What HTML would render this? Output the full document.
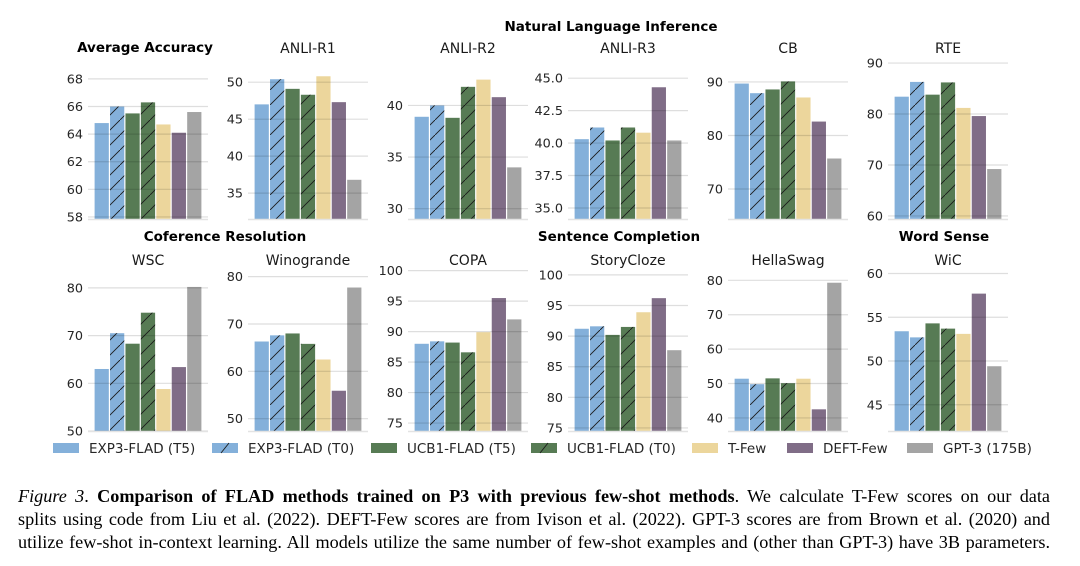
<!DOCTYPE html>
<html><head><meta charset="utf-8"><style>
html,body{margin:0;padding:0;background:#fff;}
body{position:relative;width:1080px;height:566px;overflow:hidden;}
svg{display:block;position:absolute;left:0;top:0;}
.tk{font-family:"DejaVu Sans","Liberation Sans",sans-serif;font-size:12.8px;fill:#262626;}
.st{font-family:"DejaVu Sans","Liberation Sans",sans-serif;font-size:14px;fill:#1a1a1a;}
.gt{font-family:"DejaVu Sans","Liberation Sans",sans-serif;font-size:13.5px;font-weight:bold;fill:#000;}
.lg{font-family:"DejaVu Sans","Liberation Sans",sans-serif;font-size:13.5px;fill:#262626;}
.cap{position:absolute;left:18px;width:1032px;font-family:"Liberation Serif","Times New Roman",serif;font-size:18.2px;line-height:23px;color:#000;text-align:justify;text-align-last:justify;white-space:nowrap;}
</style></head><body>
<svg id="fig" width="1080" height="566" viewBox="0 0 1080 566" xmlns="http://www.w3.org/2000/svg">
<defs>
<pattern id="hatch" patternUnits="userSpaceOnUse" width="15" height="15">
<line x1="0" y1="15" x2="15" y2="0" stroke="#1a1a1a" stroke-width="0.9"/>
</pattern>
</defs>
<g id="panels"></g>
<g id="legend"></g>
<text class="gt" x="611" y="31" text-anchor="middle">Natural Language Inference</text>
<text class="gt" x="145" y="52" text-anchor="middle">Average Accuracy</text>
<text class="gt" x="225" y="241" text-anchor="middle">Coference Resolution</text>
<text class="gt" x="619" y="241" text-anchor="middle">Sentence Completion</text>
<text class="gt" x="944" y="241" text-anchor="middle">Word Sense</text>
</svg>
<div>
<div class="cap" style="top:485px;"><i>Figure 3</i>. <b>Comparison of FLAD methods trained on P3 with previous few-shot methods</b>.  We calculate T-Few scores on our data</div>
<div class="cap" style="top:508px;">splits using code from Liu et al. (2022). DEFT-Few scores are from Ivison et al. (2022). GPT-3 scores are from Brown et al. (2020) and</div>
<div class="cap" style="top:531px;">utilize few-shot in-context learning. All models utilize the same number of few-shot examples and (other than GPT-3) have 3B parameters.</div>
</div>
<script>
const methods = ["EXP3-FLAD (T5)","EXP3-FLAD (T0)","UCB1-FLAD (T5)","UCB1-FLAD (T0)","T-Few","DEFT-Few","GPT-3 (175B)"];
const colors = ["#84b0da","#84b0da","#577b54","#577b54","#ecd69c","#806d87","#a4a4a4"];
const hatched = [false,true,false,true,false,false,false];
const tasks = ["","ANLI-R1","ANLI-R2","ANLI-R3","CB","RTE","WSC","Winogrande","COPA","StoryCloze","HellaSwag","WiC"];
const avgVals = [64.8,66.0,65.5,66.3,64.7,64.1,65.6];
const anliR1 = [47.0,50.4,49.1,48.3,50.8,47.3,36.8];
const anliR2 = [38.9,40.0,38.8,41.8,42.5,40.8,34.0];
const anliR3 = [40.3,41.2,40.2,41.2,40.8,44.3,40.2];
const cbVals = [89.7,87.9,88.6,90.1,87.1,82.6,75.7];
const rteVals = [83.4,86.3,83.8,86.2,81.2,79.6,69.2];
const wscVals = [63.0,70.5,68.3,74.8,58.8,63.4,80.2];
const winoVals = [66.3,67.6,68.0,65.8,62.5,55.9,77.7];
const copaVals = [88.0,88.4,88.2,86.6,89.9,95.5,92.0];
const storyVals = [91.2,91.6,90.2,91.5,93.9,96.2,87.7];
const hellaVals = [51.4,49.8,51.5,50.1,51.4,42.5,79.3];
const wicVals = [53.4,52.7,54.3,53.7,53.1,57.7,49.4];
const seriesList = [avgVals,anliR1,anliR2,anliR3,cbVals,rteVals,wscVals,winoVals,copaVals,storyVals,hellaVals,wicVals];
const yLo = [57.85,31.5,29.0,34.15,64.4,59.4,50.0,47.4,73.7,74.5,36.2,42.0];
const yHi = [69.37,53.0,44.4,46.4,94.1,90.6,83.75,81.4,100.1,100.8,83.0,60.4];
const tickLists = [[58,60,62,64,66,68],[35,40,45,50],[30,35,40],[35,37.5,40,42.5,45],[70,80,90],[60,70,80,90],[50,60,70,80],[50,60,70,80],[75,80,85,90,95,100],[75,80,85,90,95,100],[40,50,60,70,80],[45,50,55,60]];
const tickDecimals = [0,0,0,1,0,0,0,0,0,0,0,0];

const NS="http://www.w3.org/2000/svg";
function mk(tag,attrs,parent){const e=document.createElementNS(NS,tag);for(const k in attrs)e.setAttribute(k,attrs[k]);parent.appendChild(e);return e;}
const panels=document.getElementById('panels');
const slugs=["average-accuracy","anli-r1","anli-r2","anli-r3","cb","rte","wsc","winogrande","copa","storycloze","hellaswag","wic"];
seriesList.forEach((vals,p)=>{
  const row=Math.floor(p/6), col=p%6;
  const x0=88+160*col, w=120;
  const top=row===0?60:270, bot=row===0?219:431;
  const lo=yLo[p], hi=yHi[p];
  const y=v=>bot-(v-lo)/(hi-lo)*(bot-top);
  const g=mk('g',{},panels);
  
  
  if(tasks[p]){
    const t=mk('text',{class:'st',x:x0+w/2,y:row===0?53:265,'text-anchor':'middle'},g);
    t.textContent=tasks[p];
    
    
  }
  const slot=108/7;
  vals.forEach((v,i)=>{
    const bx=x0+6+slot*i+0.6, bw=slot-1.2, by=y(v);
    const r=mk('rect',{x:bx,y:by,width:bw,height:bot-by,fill:colors[i]},g);
    
    
    if(hatched[i]){mk('rect',{x:bx,y:by,width:bw,height:bot-by,fill:'url(#hatch)'},g);}
  });
  tickLists[p].forEach(t=>{
    const ty=y(t);
    const gl=mk('line',{x1:x0,x2:x0+w,y1:ty,y2:ty,stroke:'rgba(0,0,0,0.13)','stroke-width':1.2},g);
    
    
    const tl=mk('text',{class:'tk',x:x0-5,y:ty+4.5,'text-anchor':'end'},g);
    tl.textContent=t.toFixed(tickDecimals[p]);
    
    
  });
  const ax=mk('line',{x1:x0,x2:x0+w,y1:bot+0.5,y2:bot+0.5,stroke:'#e3e3e3','stroke-width':1.5},g);
  
  
});
const legend=document.getElementById('legend');
const lgPatchX=[53,212,371,531,692,787,907];
methods.forEach((m,i)=>{
  const g=mk('g',{},legend);
  
  
  const px=lgPatchX[i];
  mk('rect',{x:px,y:443,width:26,height:10,fill:colors[i]},g);
  if(hatched[i]) mk('line',{x1:px+9,y1:453,x2:px+17,y2:443,stroke:'#1a1a1a','stroke-width':0.9},g);
  const t=mk('text',{class:'lg',x:px+36,y:453},g);
  t.textContent=m;
});
</script>
</body></html>
